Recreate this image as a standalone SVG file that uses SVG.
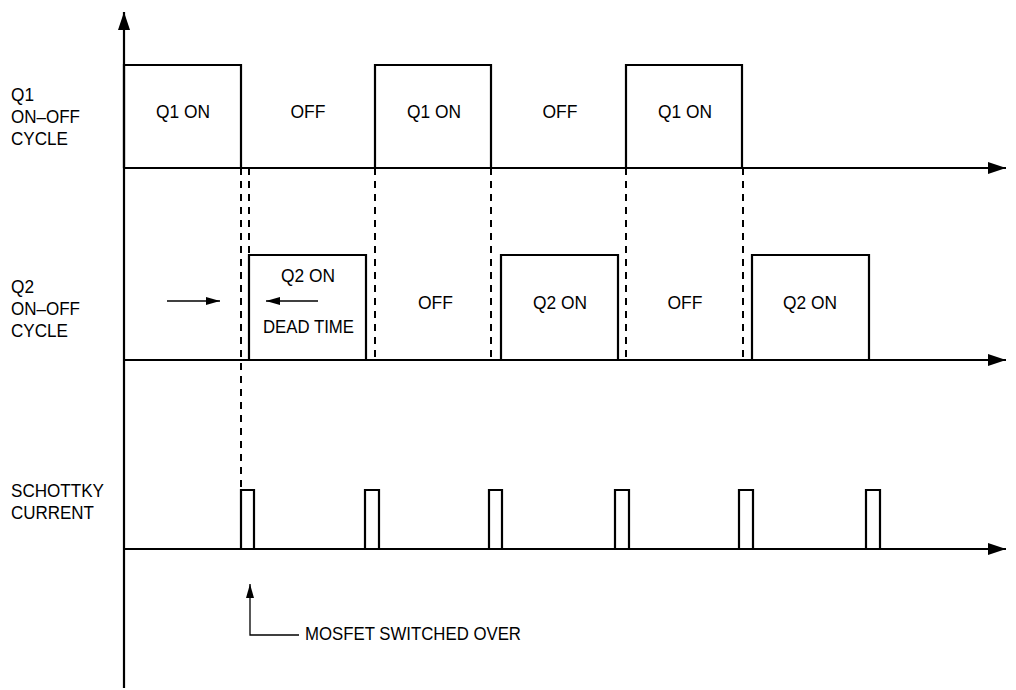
<svg xmlns="http://www.w3.org/2000/svg" width="1016" height="690" viewBox="0 0 1016 690">
<defs>
<style>
.w{fill:none;stroke:#000;stroke-width:2.2}
.ax{fill:none;stroke:#000;stroke-width:2.2}
.d{fill:none;stroke:#000;stroke-width:2;stroke-dasharray:7,6}
.thin{fill:none;stroke:#000;stroke-width:1.3}
text{font-family:"Liberation Sans",Arial,sans-serif;font-size:19px;fill:#000}
.c{text-anchor:middle}
</style>
<marker id="ah" markerWidth="18" markerHeight="12" refX="18" refY="6" orient="auto" markerUnits="userSpaceOnUse">
<path d="M0,0 L18,6 L0,12 Z" fill="#000"/>
</marker>
<marker id="sh" markerWidth="14" markerHeight="8" refX="14" refY="4" orient="auto" markerUnits="userSpaceOnUse">
<path d="M0,0 L14,4 L0,8 Z" fill="#000"/>
</marker>
</defs>
<rect width="1016" height="690" fill="#fff"/>
<g id="connectors">
<line class="ax" x1="124" y1="688" x2="124" y2="12" marker-end="url(#ah)"/>
<line class="ax" x1="124" y1="168" x2="1006" y2="168" marker-end="url(#ah)"/>
<line class="ax" x1="124" y1="360" x2="1006" y2="360" marker-end="url(#ah)"/>
<line class="ax" x1="124" y1="549" x2="1006" y2="549" marker-end="url(#ah)"/>
<line class="d" x1="241" y1="168" x2="241" y2="490"/>
<line class="d" x1="249" y1="168" x2="249" y2="360"/>
<line class="d" x1="375" y1="168" x2="375" y2="360"/>
<line class="d" x1="491" y1="168" x2="491" y2="360"/>
<line class="d" x1="626" y1="168" x2="626" y2="360"/>
<line class="d" x1="743" y1="168" x2="743" y2="360"/>
<line class="thin" x1="167" y1="301" x2="220" y2="301" marker-end="url(#sh)"/>
<line class="thin" x1="318" y1="301" x2="266" y2="301" marker-end="url(#sh)"/>
<polyline class="thin" points="299,635 250,635 250,584" marker-end="url(#sh)"/>
</g>
<g id="q1-wave">
<polyline class="w" points="124,168 124,65 241,65 241,168"/>
<polyline class="w" points="375,168 375,65 491,65 491,168"/>
<polyline class="w" points="626,168 626,65 742,65 742,168"/>
</g>
<g id="q2-wave">
<polyline class="w" points="249,360 249,255 366,255 366,360"/>
<polyline class="w" points="501,360 501,255 618,255 618,360"/>
<polyline class="w" points="752,360 752,255 869,255 869,360"/>
</g>
<g id="schottky-wave">
<polyline class="w" points="241,549 241,490 254,490 254,549"/>
<polyline class="w" points="365,549 365,490 379,490 379,549"/>
<polyline class="w" points="489,549 489,490 502,490 502,549"/>
<polyline class="w" points="615,549 615,490 629,490 629,549"/>
<polyline class="w" points="739,549 739,490 753,490 753,549"/>
<polyline class="w" points="866,549 866,490 880,490 880,549"/>
</g>
<g id="q1-label">
<text x="11" y="101" textLength="23" lengthAdjust="spacingAndGlyphs">Q1</text>
<text x="11" y="123" textLength="69" lengthAdjust="spacingAndGlyphs">ON–OFF</text>
<text x="11" y="145" textLength="57" lengthAdjust="spacingAndGlyphs">CYCLE</text>
</g>
<g id="q2-label">
<text x="11" y="293" textLength="23" lengthAdjust="spacingAndGlyphs">Q2</text>
<text x="11" y="315" textLength="69" lengthAdjust="spacingAndGlyphs">ON–OFF</text>
<text x="11" y="337" textLength="57" lengthAdjust="spacingAndGlyphs">CYCLE</text>
</g>
<g id="schottky-label">
<text x="11" y="497" textLength="93" lengthAdjust="spacingAndGlyphs">SCHOTTKY</text>
<text x="11" y="519" textLength="83" lengthAdjust="spacingAndGlyphs">CURRENT</text>
</g>
<g id="q1-texts">
<text class="c" x="183" y="118" textLength="54" lengthAdjust="spacingAndGlyphs">Q1 ON</text>
<text class="c" x="308" y="118" textLength="35" lengthAdjust="spacingAndGlyphs">OFF</text>
<text class="c" x="434" y="118" textLength="54" lengthAdjust="spacingAndGlyphs">Q1 ON</text>
<text class="c" x="560" y="118" textLength="35" lengthAdjust="spacingAndGlyphs">OFF</text>
<text class="c" x="685" y="118" textLength="54" lengthAdjust="spacingAndGlyphs">Q1 ON</text>
</g>
<g id="q2-texts">
<text class="c" x="308" y="282" textLength="54" lengthAdjust="spacingAndGlyphs">Q2 ON</text>
<text class="c" x="308.5" y="333" textLength="91" lengthAdjust="spacingAndGlyphs">DEAD TIME</text>
<text class="c" x="435.5" y="309" textLength="35" lengthAdjust="spacingAndGlyphs">OFF</text>
<text class="c" x="560" y="309" textLength="54" lengthAdjust="spacingAndGlyphs">Q2 ON</text>
<text class="c" x="685" y="309" textLength="35" lengthAdjust="spacingAndGlyphs">OFF</text>
<text class="c" x="810" y="309" textLength="54" lengthAdjust="spacingAndGlyphs">Q2 ON</text>
</g>
<g id="mosfet-note">
<text x="305" y="640" textLength="216" lengthAdjust="spacingAndGlyphs">MOSFET SWITCHED OVER</text>
</g>
</svg>
